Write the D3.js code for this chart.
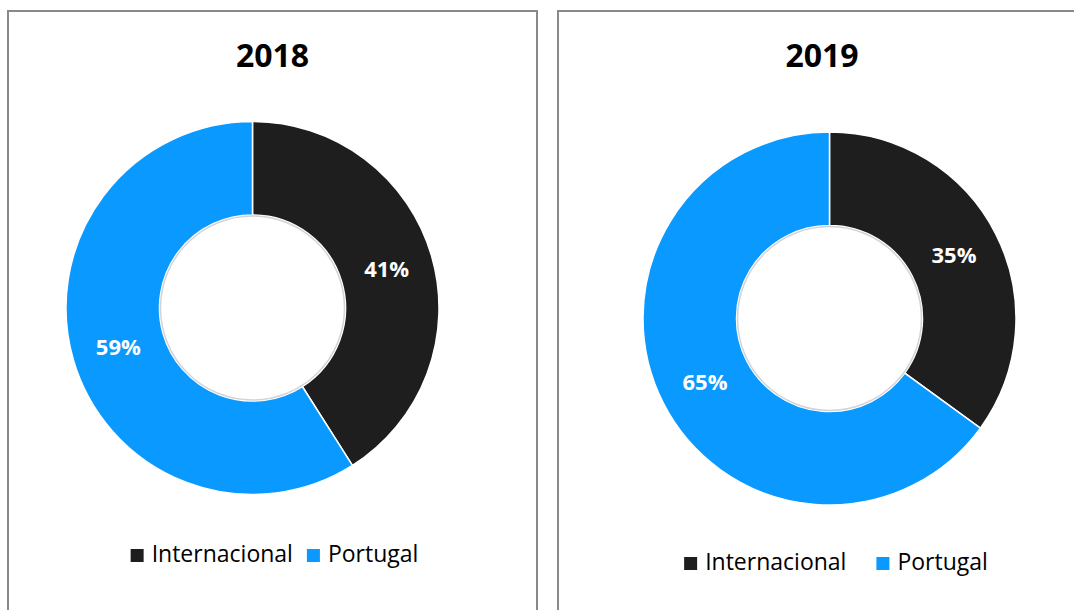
<!DOCTYPE html>
<html lang="pt">
<head>
<meta charset="utf-8">
<style>
  body { margin: 0; background: #fff; }
  svg { display: block; font-family: "Open Sans", "Noto Sans", sans-serif; }
  .frame { fill: #fff; stroke: #898989; stroke-width: 2; }
  .title { font-weight: 700; font-size: 32px; fill: #000; }
  .pct { font-weight: 700; font-size: 22px; fill: #fff; }
  .legend text { font-size: 23px; fill: #000; }
</style>
</head>
<body>
<svg width="1074" height="610"></svg>
<script src="https://d3js.org/d3.v7.min.js"></script>
<script>
  // data
  var years = ["2018", "2019"];
  var categories = ["Internacional", "Portugal"];
  var values2018 = [41, 59];
  var values2019 = [35, 65];
  var colorsList = ["#1e1e1e", "#0a9aff"];

  var series = [values2018, values2019];

  // panel layout
  var panels = [
    { x: 8, y: 11, w: 529, h: 620, cx: 252.5, cy: 308, titleY: 67, legendY: 562, gap: 14, shift: 2 },
    { x: 558, y: 11, w: 528, h: 620, cx: 829.5, cy: 318.5, titleY: 67, legendY: 570, gap: 30, shift: 14 }
  ];

  var svg = d3.select("svg");
  var color = d3.scaleOrdinal().domain(categories).range(colorsList);
  var pie = d3.pie().sort(null).value(function (d) { return d.value; });
  var outerR = 186.5, innerR = 93;
  var arc = d3.arc().innerRadius(innerR).outerRadius(outerR);
  var labelArc = d3.arc().innerRadius((innerR + outerR) / 2).outerRadius((innerR + outerR) / 2);

  panels.forEach(function (p, i) {
    var g = svg.append("g");

    g.append("rect")
      .attr("class", "frame")
      .attr("x", p.x).attr("y", p.y)
      .attr("width", p.w).attr("height", p.h);

    g.append("text")
      .attr("class", "title")
      .attr("x", p.x + p.w / 2)
      .attr("y", p.titleY)
      .attr("text-anchor", "middle")
      .text(years[i]);

    var rows = categories.map(function (c, k) { return { cat: c, value: series[i][k] }; });
    var arcs = pie(rows);

    var donut = g.append("g").attr("transform", "translate(" + p.cx + "," + p.cy + ")");

    donut.selectAll("path")
      .data(arcs)
      .enter().append("path")
      .attr("d", arc)
      .attr("fill", function (d) { return color(d.data.cat); })
      .attr("stroke", "#fff")
      .attr("stroke-width", 1.5);

    // faint shadow on the hole edge
    donut.append("circle")
      .attr("r", innerR - 1)
      .attr("fill", "none")
      .attr("stroke", "#d4d4d4")
      .attr("stroke-width", 1.5);

    donut.selectAll(".pct")
      .data(arcs)
      .enter().append("text")
      .attr("class", "pct")
      .attr("transform", function (d) { return "translate(" + labelArc.centroid(d) + ")"; })
      .attr("text-anchor", "middle")
      .attr("dy", "0.36em")
      .text(function (d) { return d.data.value + "%"; });

    // legend, centred under the panel
    var leg = g.append("g").attr("class", "legend");
    var x = 0;
    categories.forEach(function (c, k) {
      leg.append("rect")
        .attr("x", x).attr("y", p.legendY - 13)
        .attr("width", 13).attr("height", 13)
        .attr("fill", color(c));
      var t = leg.append("text")
        .attr("x", x + 21).attr("y", p.legendY)
        .text(c);
      x += 21 + t.node().getComputedTextLength() + p.gap;
    });
    var legW = x - p.gap;
    leg.attr("transform", "translate(" + (p.x + p.w / 2 - legW / 2 + p.shift) + ",0)");
  });
</script>
</body>
</html>
